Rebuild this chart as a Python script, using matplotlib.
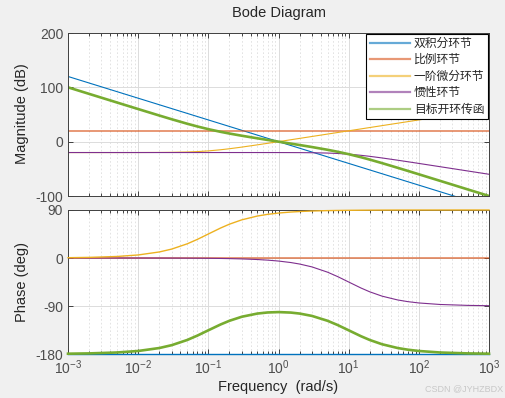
import matplotlib
matplotlib.use("Agg")
import matplotlib.pyplot as plt
from matplotlib.ticker import NullFormatter, FixedLocator, LogFormatterSciNotation
from matplotlib.lines import Line2D

plt.rcParams['font.family'] = ['Liberation Sans', 'Noto Sans CJK SC', 'DejaVu Sans']
plt.rcParams['mathtext.fontset'] = 'custom'
plt.rcParams['mathtext.rm'] = 'Liberation Sans'
plt.rcParams['mathtext.it'] = 'Liberation Sans:italic'
plt.rcParams['mathtext.bf'] = 'Liberation Sans:bold'

# ---------------- data ----------------
labels = ['双积分环节', '比例环节', '一阶微分环节', '惯性环节', '目标开环传函']

freq_end = [1e-3, 1e3]
mag_double_int = [120.0, -120.0]
phase_double_int = [-180.0, -180.0]
mag_prop = [20.0, 20.0]
phase_prop = [0.0, 0.0]

freq = [0.001, 0.002, 0.005, 0.01, 0.02, 0.03, 0.05, 0.07, 0.1, 0.15, 0.2, 0.3,
        0.5, 0.7, 1, 1.5, 2, 3, 5, 7, 10, 15, 20, 30, 50, 70, 100, 200, 500, 1000]

mag_diff = [-20.0, -20.0, -19.99, -19.96, -19.83, -19.63, -19.03, -18.27, -16.99,
            -14.88, -13.01, -10.0, -5.85, -3.01, 0.04, 3.54, 6.03, 9.55, 13.98,
            16.90, 20.0, 23.52, 26.02, 29.54, 33.98, 36.90, 40.0, 46.02, 53.98, 60.0]
phase_diff = [0.57, 1.15, 2.86, 5.71, 11.31, 16.70, 26.57, 34.99, 45.0, 56.31,
              63.43, 71.57, 78.69, 81.87, 84.29, 86.19, 87.14, 88.09, 88.85, 89.18,
              89.43, 89.62, 89.71, 89.81, 89.89, 89.92, 89.94, 89.97, 89.99, 89.99]

mag_inert = [-20.0, -20.0, -20.0, -20.0, -20.0, -20.0, -20.0, -20.0, -20.0, -20.0,
             -20.0, -20.0, -20.01, -20.02, -20.04, -20.10, -20.17, -20.37, -20.97,
             -21.73, -23.01, -25.12, -26.99, -30.0, -34.15, -36.99, -40.04, -46.03,
             -53.98, -60.0]
phase_inert = [-0.01, -0.01, -0.03, -0.06, -0.11, -0.17, -0.29, -0.40, -0.57, -0.86,
               -1.15, -1.72, -2.86, -4.00, -5.71, -8.53, -11.31, -16.70, -26.57,
               -34.99, -45.0, -56.31, -63.43, -71.57, -78.69, -81.87, -84.29, -87.14,
               -88.85, -89.43]

mag_open = [100.0, 87.96, 72.05, 60.04, 48.13, 41.29, 33.01, 27.93, 23.01, 18.08,
            14.95, 10.91, 6.18, 3.17, 0.0, -3.60, -6.18, -9.90, -14.95, -18.63,
            -23.01, -28.64, -33.01, -39.54, -48.13, -53.89, -60.04, -72.05, -87.96,
            -100.0]
phase_open = [-179.43, -178.87, -177.17, -174.35, -168.80, -163.47, -153.72, -145.41,
              -135.57, -124.55, -117.71, -110.15, -104.17, -102.13, -101.42, -102.35,
              -104.17, -108.61, -117.71, -125.81, -135.57, -146.69, -153.72, -161.76,
              -168.81, -171.95, -174.35, -177.17, -178.87, -179.43]

mag_ticks = [-100, 0, 100, 200]
phase_ticks = [-180, -90, 0, 90]
freq_ticks = [1e-3, 1e-2, 1e-1, 1e0, 1e1, 1e2, 1e3]

# ---------------- styles ----------------
c_blue = '#0072BD'
c_orange = '#D95319'
c_yellow = '#EDB120'
c_purple = '#7E2F8E'
c_green = '#77AC30'

fig = plt.figure(figsize=(5.06, 3.98), dpi=100, facecolor='#f0f0f0')
W, H = 506.0, 398.0
x0, x1 = 68, 489
ax1 = fig.add_axes([x0 / W, 1 - 196 / H, (x1 - x0) / W, (196 - 33) / H])
ax2 = fig.add_axes([x0 / W, 1 - 354 / H, (x1 - x0) / W, (354 - 210) / H])

thin = 0.8
ax1.plot(freq_end, mag_double_int, color=c_blue, lw=thin)
ax1.plot(freq_end, mag_prop, color=c_orange, lw=1.4, alpha=0.6)
ax1.plot(freq, mag_diff, color=c_yellow, lw=thin)
ax1.plot(freq, mag_inert, color=c_purple, lw=thin)
ax1.plot(freq, mag_open, color=c_green, lw=1.9)

ax2.plot(freq_end, phase_double_int, color=c_blue, lw=1.0, clip_on=False, zorder=3)
ax2.plot(freq_end, phase_prop, color=c_orange, lw=1.4, alpha=0.6)
ax2.plot(freq, phase_diff, color=c_yellow, lw=1.0, clip_on=False, zorder=3)
ax2.plot(freq, phase_inert, color=c_purple, lw=thin)
ax2.plot(freq, phase_open, color=c_green, lw=1.9, clip_on=False, zorder=3)

minor_ticks = [m * 10.0 ** e for e in range(-3, 3) for m in range(2, 10)]
for ax, ylim, yt in [(ax1, (-100, 200), mag_ticks), (ax2, (-180, 90), phase_ticks)]:
    ax.set_xscale('log')
    ax.set_xlim(1e-3, 1e3)
    ax.set_ylim(*ylim)
    ax.yaxis.set_major_locator(FixedLocator(yt))
    ax.xaxis.set_major_locator(FixedLocator(freq_ticks))
    ax.xaxis.set_major_formatter(LogFormatterSciNotation())
    ax.xaxis.set_minor_locator(FixedLocator(minor_ticks))
    ax.xaxis.set_minor_formatter(NullFormatter())
    ax.set_facecolor('white')
    ax.grid(True, which='major', color='#dcdcdc', lw=0.7, ls='-')
    ax.grid(True, which='minor', axis='x', color='#dedede', lw=0.6, ls=(0, (2, 2.5)))
    ax.set_axisbelow(True)
    ax.tick_params(which='both', direction='in', top=True, right=True,
                   colors='#262626', labelcolor='#4d4d4d', labelsize=10, width=0.6)
    ax.tick_params(which='major', length=3.5)
    ax.tick_params(which='minor', length=2)
    for s in ax.spines.values():
        s.set_color('#404040')
        s.set_linewidth(0.7)

ax1.tick_params(labelbottom=False)
ax1.set_yticklabels([str(v) for v in mag_ticks])
ax2.set_yticklabels([str(v) for v in phase_ticks])

handles = [Line2D([], [], color=c, lw=1.6, alpha=0.6)
           for c in [c_blue, c_orange, c_yellow, c_purple, c_green]]
leg = ax1.legend(handles, labels, loc='upper right', fontsize=8.5, frameon=True,
                 fancybox=False, edgecolor='black', framealpha=1.0,
                 borderaxespad=0.1, handlelength=3.4, handletextpad=0.35,
                 labelspacing=0.38, borderpad=0.3)
leg.get_frame().set_linewidth(0.8)
for t in leg.get_texts():
    t.set_color('#262626')

fig.text((x0 + x1) / 2 / W, 1 - 13 / H, 'Bode Diagram', ha='center', va='center',
         fontsize=10.5, color='#262626')
fig.text((x0 + x1) / 2 / W, 1 - 387 / H, 'Frequency  (rad/s)', ha='center',
         va='center', fontsize=10.5, color='#262626')
fig.text(22 / W, 1 - 114 / H, 'Magnitude (dB)', ha='center', va='center',
         rotation=90, fontsize=10.5, color='#262626')
fig.text(22 / W, 1 - 282 / H, 'Phase (deg)', ha='center', va='center',
         rotation=90, fontsize=10.5, color='#262626')
fig.text(503 / W, 1 - 389 / H, 'CSDN @JYHZBDX', ha='right', va='center',
         fontsize=6.5, color='#c8c8c8')

fig.savefig('out.png', dpi=100, facecolor=fig.get_facecolor())
